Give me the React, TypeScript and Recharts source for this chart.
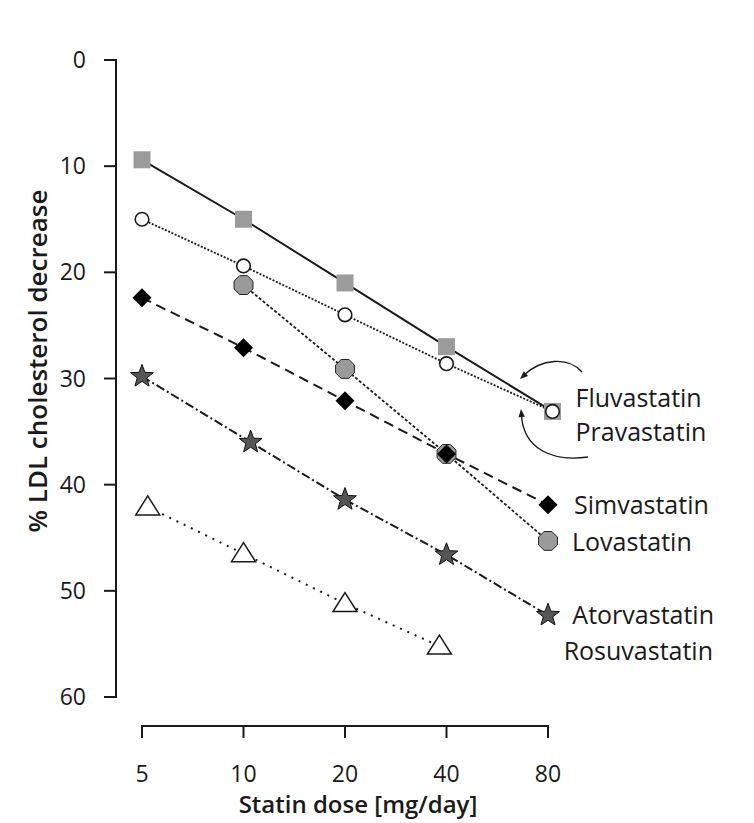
import React from "react";
import { LineChart, Line, XAxis, YAxis, Customized } from "recharts";

// doses in mg/day, LDL decrease in %
const doseTicks = [5, 10, 20, 40, 80];
const decreaseTicks = [0, 10, 20, 30, 40, 50, 60];

const fluvastatinDose = [5, 10, 20, 40, 82.5];
const fluvastatinDecrease = [9.4, 15.0, 21.0, 27.0, 33.1];
const pravastatinDose = [5, 10, 20, 40, 82.5];
const pravastatinDecrease = [15.0, 19.4, 24.0, 28.6, 33.1];
const lovastatinDose = [10, 20, 40, 80];
const lovastatinDecrease = [21.2, 29.1, 37.1, 45.3];
const simvastatinDose = [5, 10, 20, 40, 80];
const simvastatinDecrease = [22.4, 27.1, 32.1, 37.1, 41.9];
const atorvastatinDose = [5, 10.5, 20, 40, 80];
const atorvastatinDecrease = [29.8, 36.0, 41.4, 46.6, 52.3];
const rosuvastatinDose = [5.2, 10, 20, 38.1];
const rosuvastatinDecrease = [42.1, 46.5, 51.2, 55.2];

const FONT = "'Open Sans', 'Noto Sans', sans-serif";
const INK = "#1a1a1a";

const W = 754;
const H = 823;
const PLOT_LEFT = 116;
const PLOT_TOP = 60;
const PLOT_BOTTOM = 726;
const Y_PAD_BOTTOM = 29;
const X_PAD_LEFT = 26;
const PX_PER_DOUBLING = 101.5;
const X_MAX = 90;
const PLOT_RIGHT = PLOT_LEFT + X_PAD_LEFT + PX_PER_DOUBLING * Math.log2(X_MAX / 5);
const Y_AXIS_W = 80;
const X_AXIS_H = 60;

const toRows = (dose: number[], decrease: number[]) =>
  dose.map((d, i) => ({ dose: d, decrease: decrease[i] }));

type Lbl = { text: string; dx: number; dy: number; anchor?: "start" | "end" };

const seriesLabel = (l: Lbl, cx: number, cy: number) => (
  <text
    key={l.text}
    x={cx + l.dx}
    y={cy + l.dy}
    textAnchor={l.anchor || "start"}
    fontFamily={FONT}
    fontSize={25}
    fill={INK}
  >
    {l.text}
  </text>
);

const poly = (pts: number[][]) => pts.map((p) => p.join(",")).join(" ");

const drawMarker = (kind: string, cx: number, cy: number) => {
  switch (kind) {
    case "square":
      return <rect x={cx - 8.5} y={cy - 8.5} width={17} height={17} fill="#9b9b9b" />;
    case "circle":
      return <circle cx={cx} cy={cy} r={6.8} fill="#fff" stroke={INK} strokeWidth={1.6} />;
    case "octagon": {
      const r = 10.2;
      const pts = Array.from({ length: 8 }, (_, i) => {
        const a = ((22.5 + 45 * i) * Math.PI) / 180;
        return [cx + r * Math.cos(a), cy + r * Math.sin(a)];
      });
      return <polygon points={poly(pts)} fill="#9a9a9a" stroke="#222" strokeWidth={1} />;
    }
    case "diamond":
      return (
        <polygon
          points={poly([[cx, cy - 9.5], [cx + 9.5, cy], [cx, cy + 9.5], [cx - 9.5, cy]])}
          fill="#000"
        />
      );
    case "star": {
      const pts = Array.from({ length: 10 }, (_, i) => {
        const r = i % 2 === 0 ? 12 : 5;
        const a = ((-90 + 36 * i) * Math.PI) / 180;
        return [cx + r * Math.cos(a), cy + r * Math.sin(a)];
      });
      return <polygon points={poly(pts)} fill="#555" stroke="#111" strokeWidth={1} />;
    }
    default:
      return (
        <polygon
          points={poly([[cx, cy - 11], [cx + 12, cy + 8], [cx - 12, cy + 8]])}
          fill="#fff"
          stroke={INK}
          strokeWidth={1.5}
        />
      );
  }
};

const makeDot =
  (kind: string, lastIndex: number, labels: Lbl[]) => (props: any) => {
    const { cx, cy, index } = props;
    if (cx == null || cy == null) return <g key={`e-${index}`} />;
    return (
      <g key={`${kind}-${index}`}>
        {drawMarker(kind, cx, cy)}
        {index === lastIndex && labels.map((l) => seriesLabel(l, cx, cy))}
      </g>
    );
  };

const arrowHead = (tx: number, ty: number, fx: number, fy: number) => {
  const len = Math.hypot(tx - fx, ty - fy);
  const ux = (tx - fx) / len;
  const uy = (ty - fy) / len;
  const bx = tx - ux * 8;
  const by = ty - uy * 8;
  return (
    <polygon
      points={poly([
        [tx, ty],
        [bx - uy * 3.2, by + ux * 3.2],
        [bx + uy * 3.2, by - ux * 3.2],
      ])}
      fill={INK}
    />
  );
};

const Decorations = () => {
  const yTop = PLOT_TOP;
  const yBottom = PLOT_BOTTOM - Y_PAD_BOTTOM;
  const x5 = PLOT_LEFT + X_PAD_LEFT;
  const x80 = x5 + PX_PER_DOUBLING * 4;
  return (
    <g>
      <line x1={PLOT_LEFT} y1={yTop - 1} x2={PLOT_LEFT} y2={yBottom + 1} stroke={INK} strokeWidth={2} />
      <line x1={x5 - 1} y1={PLOT_BOTTOM} x2={x80 + 1} y2={PLOT_BOTTOM} stroke={INK} strokeWidth={2} />
      <path d="M 582 372 C 568 356 541 359 524 375" fill="none" stroke={INK} strokeWidth={1.4} />
      {arrowHead(520, 379, 530, 370)}
      <path d="M 588 457 C 552 462 524 449 521.5 416" fill="none" stroke={INK} strokeWidth={1.4} />
      {arrowHead(521, 409, 521.8, 418)}
      <text
        x={358}
        y={813}
        textAnchor="middle"
        fontFamily={FONT}
        fontWeight={600}
        fontSize={24}
        fill={INK}
      >
        Statin dose [mg/day]
      </text>
      <text
        transform="translate(47, 361) rotate(-90)"
        textAnchor="middle"
        fontFamily={FONT}
        fontWeight={600}
        fontSize={26}
        fill={INK}
      >
        % LDL cholesterol decrease
      </text>
    </g>
  );
};

export default function App() {
  const tickStyle = { fontSize: 23, fill: INK, fontFamily: FONT };
  return (
    <div style={{ position: "absolute", left: 0, top: 0, width: W, height: H, background: "#fff" }}>
      <LineChart
        width={W}
        height={H}
        margin={{
          top: PLOT_TOP,
          right: W - PLOT_RIGHT,
          bottom: H - PLOT_BOTTOM - X_AXIS_H,
          left: PLOT_LEFT - Y_AXIS_W,
        }}
      >
        <XAxis
          dataKey="dose"
          type="number"
          scale="log"
          domain={[5, X_MAX]}
          ticks={doseTicks}
          interval={0}
          height={X_AXIS_H}
          padding={{ left: X_PAD_LEFT, right: 0 }}
          axisLine={false}
          tickLine={{ stroke: INK, strokeWidth: 2 }}
          tickSize={12}
          tickMargin={28}
          tick={tickStyle}
        />
        <YAxis
          type="number"
          domain={[0, 60]}
          ticks={decreaseTicks}
          interval={0}
          reversed
          width={Y_AXIS_W}
          padding={{ top: 0, bottom: Y_PAD_BOTTOM }}
          axisLine={false}
          tickLine={{ stroke: INK, strokeWidth: 2 }}
          tickSize={12}
          tickMargin={18}
          tick={tickStyle}
        />
        <Customized component={Decorations} />
        <Line
          data={toRows(fluvastatinDose, fluvastatinDecrease)}
          dataKey="decrease"
          stroke={INK}
          strokeWidth={2}
          dot={makeDot("square", 4, [{ text: "Fluvastatin", dx: 23, dy: -4 }])}
          isAnimationActive={false}
        />
        <Line
          data={toRows(pravastatinDose, pravastatinDecrease)}
          dataKey="decrease"
          stroke={INK}
          strokeWidth={1.8}
          strokeDasharray="2 1.6"
          dot={makeDot("circle", 4, [{ text: "Pravastatin", dx: 23, dy: 30 }])}
          isAnimationActive={false}
        />
        <Line
          data={toRows(lovastatinDose, lovastatinDecrease)}
          dataKey="decrease"
          stroke={INK}
          strokeWidth={1.8}
          strokeDasharray="3 2"
          dot={makeDot("octagon", 3, [{ text: "Lovastatin", dx: 24, dy: 10 }])}
          isAnimationActive={false}
        />
        <Line
          data={toRows(simvastatinDose, simvastatinDecrease)}
          dataKey="decrease"
          stroke={INK}
          strokeWidth={2}
          strokeDasharray="10 6"
          dot={makeDot("diamond", 4, [{ text: "Simvastatin", dx: 26, dy: 9 }])}
          isAnimationActive={false}
        />
        <Line
          data={toRows(atorvastatinDose, atorvastatinDecrease)}
          dataKey="decrease"
          stroke={INK}
          strokeWidth={2}
          strokeDasharray="9 3 2 3"
          dot={makeDot("star", 4, [
            { text: "Atorvastatin", dx: 166, dy: 9, anchor: "end" },
            { text: "Rosuvastatin", dx: 165, dy: 45, anchor: "end" },
          ])}
          isAnimationActive={false}
        />
        <Line
          data={toRows(rosuvastatinDose, rosuvastatinDecrease)}
          dataKey="decrease"
          stroke={INK}
          strokeWidth={2}
          strokeDasharray="2 6"
          dot={makeDot("triangle", 3, [])}
          isAnimationActive={false}
        />
      </LineChart>
    </div>
  );
}
